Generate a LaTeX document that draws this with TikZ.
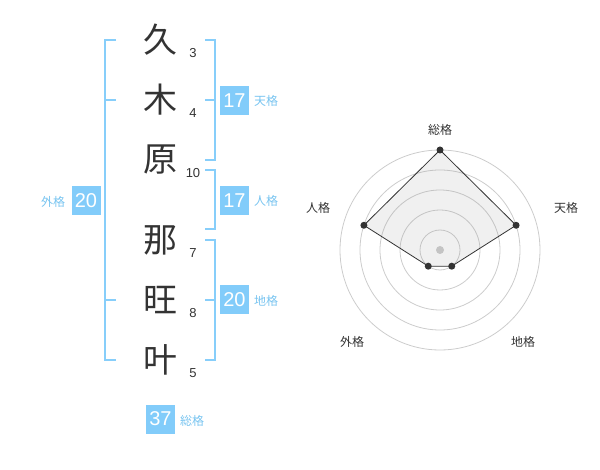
\documentclass[tikz,border=0pt]{standalone}
\usepackage{fontspec}
\usetikzlibrary{calc}
\setmainfont{Liberation Sans}
\newfontfamily\cjk{Noto Sans CJK JP}
\definecolor{brk}{RGB}{135,206,250}
\definecolor{boxc}{RGB}{130,204,250}
\definecolor{lblc}{RGB}{120,196,240}
\definecolor{ink}{RGB}{51,51,51}
\definecolor{ring}{RGB}{204,204,204}
\begin{document}
\begin{tikzpicture}[x=1pt,y=-1pt,
  kanji/.style={inner sep=0pt,text=ink,font=\cjk\fontsize{34}{34}\selectfont},
  strokes/.style={inner sep=0pt,text=ink,font=\fontsize{13}{13}\selectfont},
  valbox/.style={fill=boxc,text=white,minimum width=29pt,minimum height=29pt,inner sep=0pt,font=\fontsize{20}{20}\selectfont},
  kaku/.style={inner sep=0pt,text=lblc,font=\cjk\fontsize{12}{12}\selectfont},
  bracket/.style={draw=brk,line width=2pt},
  axislbl/.style={inner sep=0pt,text=ink,font=\cjk\fontsize{12}{12}\selectfont},
  dot/.style={circle,fill=ink,inner sep=0pt,minimum size=7pt}]
\useasboundingbox (0,0) rectangle (600,470);
% characters
\node[kanji] (c1) at (160,40) {久};
\node[kanji] (c2) at (160,100) {木};
\node[kanji] (c3) at (160,160) {原};
\node[kanji] (c4) at (160,240) {那};
\node[kanji] (c5) at (160,300) {旺};
\node[kanji] (c6) at (160,360) {叶};
% stroke counts
\node[strokes] (n1) at (193,53) {3};
\node[strokes] (n2) at (193,113) {4};
\node[strokes] (n3) at (193,173) {10};
\node[strokes] (n4) at (193,253) {7};
\node[strokes] (n5) at (193,313) {8};
\node[strokes] (n6) at (193,373) {5};
% brackets
\draw[bracket] (116,40) -- (105,40) -- (105,360) -- (116,360);
\draw[bracket] (105,100) -- (116,100);
\draw[bracket] (105,300) -- (116,300);
\draw[bracket] (205,40) -- (215,40) -- (215,160) -- (205,160);
\draw[bracket] (205,100) -- (215,100);
\draw[bracket] (205,170) -- (215,170) -- (215,229) -- (205,229);
\draw[bracket] (205,240) -- (215,240) -- (215,360) -- (205,360);
\draw[bracket] (205,300) -- (215,300);
% value boxes and labels
\node[valbox] (ten) at (234.5,100.5) {17};
\node[kaku] (tenl) at (266,101) {天格};
\node[valbox] (jin) at (234.5,200.5) {17};
\node[kaku] (jinl) at (266,201) {人格};
\node[valbox] (chi) at (234.5,300) {20};
\node[kaku] (chil) at (266,301) {地格};
\node[valbox] (gai) at (86,200.5) {20};
\node[kaku] (gail) at (53,202) {外格};
\node[valbox] (sou) at (160.5,419) {37};
\node[kaku] (soul) at (192,421) {総格};
% radar
\coordinate (O) at (440,250);
\foreach \r in {20,40,60,80,100} \draw[ring,line width=0.8pt] (O) circle[radius=\r];
\fill[ring] (O) circle[radius=4];
\coordinate (pS) at ($(O)+(0,-100)$);
\coordinate (pT) at ($(O)+({80*cos(18)},{-80*sin(18)})$);
\coordinate (pC) at ($(O)+({20*cos(54)},{20*sin(54)})$);
\coordinate (pG) at ($(O)+({-20*cos(54)},{20*sin(54)})$);
\coordinate (pJ) at ($(O)+({-80*cos(18)},{-80*sin(18)})$);
\draw[fill=black!40!white,fill opacity=0.15,draw=ink,line width=0.8pt] (pS) -- (pT) -- (pC) -- (pG) -- (pJ) -- cycle;
\foreach \p in {pS,pT,pC,pG,pJ} \node[dot] at (\p) {};
\node[axislbl] (aS) at (440,130) {総格};
\node[axislbl] (aT) at (566,208) {天格};
\node[axislbl] (aJ) at (318,208) {人格};
\node[axislbl] (aG) at (352,342) {外格};
\node[axislbl] (aC) at (523,342) {地格};
\end{tikzpicture}
\end{document}
